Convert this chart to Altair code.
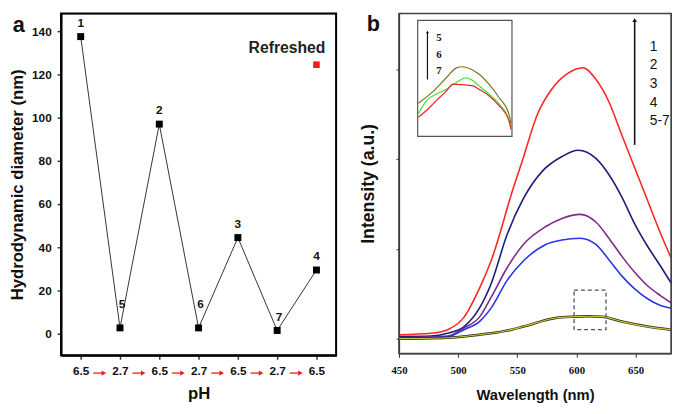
import json
import altair as alt
import pandas as pd

# ---------------- Panel a data ----------------
step_index = [0, 1, 2, 3, 4, 5, 6]
ph_values = ["6.5", "2.7", "6.5", "2.7", "6.5", "2.7", "6.5"]
diameter_nm = [137.5, 2.7, 97.0, 2.7, 44.5, 1.5, 29.5]
sample_labels = ["1", "5", "2", "6", "3", "7", "4"]
refreshed_index = [6]
refreshed_diameter = [124.5]
arrow_steps = [0.5, 1.5, 2.5, 3.5, 4.5, 5.5]
a_step_range = [-0.5, 6.5]
a_diam_range = [-10, 148.2]
arrow_row_diam = -18.2   # level of the red arrows, just below the axis

# ---------------- Panel b data ----------------
wl_1 = [450, 477, 491, 505, 518, 527.8, 546.9, 553.7, 567.3, 578, 592, 605.5, 616.4, 627.4, 638.3, 649.2, 660.1, 671, 680]
int_1 = [0.044, 0.06, 0.10, 0.24, 0.56, 0.865, 1.69, 1.96, 2.51, 2.76, 2.95, 3.02, 2.89, 2.64, 2.27, 1.905, 1.54, 1.175, 0.90]
wl_2 = [450, 477, 491, 505, 518, 527.8, 541.4, 555.1, 571.4, 587.8, 601.4, 616.4, 627.4, 638.3, 649.2, 660.1, 671, 680]
int_2 = [0.025, 0.03, 0.06, 0.135, 0.34, 0.61, 1.16, 1.56, 1.87, 2.03, 2.10, 2.01, 1.83, 1.58, 1.28, 1.03, 0.81, 0.62]
wl_3 = [450, 491, 505, 518, 527.8, 541.4, 555.1, 574.1, 587.8, 603, 616.4, 627.4, 638.3, 649.2, 660.1, 671, 680]
int_3 = [0.01, 0.03, 0.12, 0.24, 0.46, 0.79, 1.05, 1.25, 1.34, 1.385, 1.30, 1.12, 0.92, 0.74, 0.59, 0.48, 0.40]
wl_4 = [450, 491, 505, 518, 527.8, 541.4, 555.1, 574.1, 587.8, 603, 616.4, 627.4, 638.3, 649.2, 660.1, 671, 680]
int_4 = [0.0, 0.02, 0.10, 0.19, 0.34, 0.65, 0.865, 1.05, 1.10, 1.12, 1.05, 0.88, 0.70, 0.555, 0.445, 0.37, 0.34]
wl_57 = [450, 491, 518, 527.8, 545, 555.1, 582.5, 598.9, 610, 621.8, 638.3, 660.1, 680]
int_57 = [0.0, 0.01, 0.044, 0.06, 0.10, 0.135, 0.23, 0.245, 0.25, 0.245, 0.19, 0.135, 0.10]
series_names = ["1", "2", "3", "4"]
series_colors = ["#ff2626", "#1c1c7c", "#7e2a88", "#2a36e6"]
b_wl_range = [450, 680]
b_int_range = [-0.164, 3.624]

zoom_box_wl = [598, 625]
zoom_box_int = [0.10, 0.54]
legend_labels = ["1", "2", "3", "4", "5-7"]
legend_int = [3.255, 3.05, 2.84, 2.63, 2.42]
legend_wl = 662
arrow_wl = 649.2
arrow_int = [2.16, 3.55]

# inset: zoomed region 598-625 nm (relative intensity 0-1), placed in the upper-left corner
inset_wl_5 = [598.2, 602.5, 606.2, 609.1, 610.9, 612.8, 615.6, 618.4, 621.3, 624.1, 624.7]
inset_v_5 = [0.285, 0.39, 0.505, 0.59, 0.60, 0.585, 0.535, 0.45, 0.335, 0.195, 0.11]
inset_wl_6 = [598.2, 600.6, 603.4, 606.2, 609.1, 611.9, 613.3, 615.6, 618.4, 621.3, 624.1, 624.7]
inset_v_6 = [0.195, 0.31, 0.365, 0.405, 0.465, 0.505, 0.49, 0.435, 0.365, 0.28, 0.14, 0.07]
inset_wl_7 = [598.2, 600.6, 603.4, 606.2, 608.1, 610.9, 613.8, 615.6, 618.4, 621.3, 624.1, 624.7]
inset_v_7 = [0.165, 0.225, 0.31, 0.39, 0.45, 0.445, 0.435, 0.405, 0.35, 0.265, 0.14, 0.06]
inset_names = ["5", "6", "7"]
inset_colors = ["#7d7420", "#33e633", "#ee2222"]
inset_labels = ["5", "6", "7"]
inset_label_v = [0.845, 0.70, 0.56]
inset_label_wl = 603.3
inset_arrow_wl = 600.8
inset_arrow_v = [0.49, 0.90]
inset_place_wl = [465.8, 545.5]     # where the inset frame sits on the main wavelength axis
inset_place_int = [2.255, 3.547]    # and on the main intensity axis

FONT = "Liberation Sans"
NARROW = "Liberation Sans Narrow"

# ================= Panel a =================
df_a = pd.DataFrame({"step": step_index, "d": diameter_nm, "lab": sample_labels})
ph_expr = json.dumps(ph_values)
x_a = alt.X(
    "step:Q",
    scale=alt.Scale(domain=a_step_range, nice=False, zero=False),
    axis=alt.Axis(
        values=step_index,
        labelExpr=f"{ph_expr}[datum.value]",
        title="pH", titleFontSize=17, titleFontWeight="bold", titlePadding=10,
        labelFontSize=12, labelFontWeight="bold", labelPadding=6, tickSize=4, tickWidth=1.5,
        labelFlush=False, labelOverlap=False, grid=False, domainColor="#000", domainWidth=2,
    ),
)
y_a = alt.Y(
    "d:Q",
    scale=alt.Scale(domain=a_diam_range, nice=False, zero=False),
    axis=alt.Axis(
        values=list(range(0, 150, 20)),
        title="Hydrodynamic diameter (nm)", titleFontSize=17, titleFontWeight="bold",
        titlePadding=5,
        labelFontSize=12, labelFontWeight="bold", labelPadding=6, tickSize=4, tickWidth=1.5,
        labelOverlap=False, grid=False, domainColor="#000", domainWidth=2,
    ),
)
line_a = alt.Chart(df_a).mark_line(color="#333333", strokeWidth=1).encode(x=x_a, y=y_a)
pts_a = alt.Chart(df_a).mark_square(size=50, color="black", opacity=1).encode(x="step:Q", y="d:Q")
lab_even = alt.Chart(df_a).transform_filter("datum.step % 2 === 0").mark_text(
    font=FONT, fontSize=12, fontWeight="bold", dy=-14, color="#111").encode(x="step:Q", y="d:Q", text="lab:N")
lab_56 = alt.Chart(df_a).transform_filter("datum.step === 1 || datum.step === 3").mark_text(
    font=FONT, fontSize=12, fontWeight="bold", dy=-24, dx=2, color="#111").encode(x="step:Q", y="d:Q", text="lab:N")
lab_7 = alt.Chart(df_a).transform_filter("datum.step === 5").mark_text(
    font=FONT, fontSize=12, fontWeight="bold", dy=-14, dx=2, color="#111").encode(x="step:Q", y="d:Q", text="lab:N")
df_ref = pd.DataFrame({"step": refreshed_index, "d": refreshed_diameter, "t": ["Refreshed"]})
ref_pt = alt.Chart(df_ref).mark_square(size=45, color="#ff1a1a", opacity=1).encode(x="step:Q", y="d:Q")
ref_txt = alt.Chart(df_ref).mark_text(font=FONT, fontSize=16, fontWeight="bold", dx=-30, dy=-17, color="#222").encode(
    x="step:Q", y="d:Q", text="t:N")
df_arr = pd.DataFrame({"step": arrow_steps, "d": [arrow_row_diam] * len(arrow_steps)})
arr_shaft = alt.Chart(df_arr).transform_calculate(
    s0="datum.step - 0.18", s1="datum.step + 0.06"
).mark_rule(color="#e8201c", strokeWidth=1.3).encode(x="s0:Q", x2="s1:Q", y="d:Q")
arr_tip = alt.Chart(df_arr).transform_calculate(tip="datum.step + 0.09").mark_point(
    shape="triangle-right", size=28, filled=True, color="#e8201c", opacity=1).encode(x="tip:Q", y="d:Q")
letter_a = alt.Chart(pd.DataFrame({"t": ["a"]})).mark_text(
    font=FONT, fontSize=22, fontWeight="bold", color="#111").encode(x=alt.value(-43), y=alt.value(12), text="t:N")
frame_a = alt.Chart(pd.DataFrame({"t": [0]})).mark_rect(fillOpacity=0, stroke="#000000", strokeWidth=2).encode(
    x=alt.datum(a_step_range[0]), x2=alt.datum(a_step_range[1]),
    y=alt.datum(a_diam_range[0]), y2=alt.datum(a_diam_range[1]))

panel_a = alt.layer(line_a, pts_a, lab_even, lab_56, lab_7, ref_pt, ref_txt, arr_shaft, arr_tip, letter_a,
                    frame_a).properties(width=280, height=348)

# ================= Panel b =================
rows = []
for name, wl, it in zip(series_names, [wl_1, wl_2, wl_3, wl_4], [int_1, int_2, int_3, int_4]):
    rows += [{"wl": w, "I": v, "s": name} for w, v in zip(wl, it)]
df_b = pd.DataFrame(rows)
df_57 = pd.DataFrame({"wl": wl_57, "I": int_57})

x_b = alt.X(
    "wl:Q",
    scale=alt.Scale(domain=b_wl_range, nice=False, zero=False),
    axis=alt.Axis(
        values=list(range(450, 700, 25)),
        labelExpr="datum.value % 50 === 0 ? datum.label : ''",
        title="Wavelength (nm)", titleFontSize=15, titleFontWeight="bold", titlePadding=13,
        labelFont=NARROW, labelFontSize=11, labelFontWeight="bold", labelPadding=7, tickSize=4,
        labelFlush=False, labelOverlap=False, grid=False,
    ),
)
y_b = alt.Y(
    "I:Q",
    scale=alt.Scale(domain=b_int_range, nice=False, zero=False),
    axis=alt.Axis(
        values=[0, 1, 2, 3], labels=False, tickSize=3,
        title="Intensity (a.u.)", titleFontSize=18, titleFontWeight="bold", titlePadding=18, grid=False,
    ),
)
color_b = alt.Color("s:N", scale=alt.Scale(domain=series_names + inset_names, range=series_colors + inset_colors),
                    legend=None)
curves = alt.Chart(df_b).mark_line(interpolate="monotone", strokeWidth=1.6).encode(x=x_b, y=y_b, color=color_b)
c57_dark = alt.Chart(df_57).mark_line(interpolate="monotone", strokeWidth=2.6, color="#2a2a10").encode(x="wl:Q", y="I:Q")
c57_yel = alt.Chart(df_57).mark_line(interpolate="monotone", strokeWidth=1.2, color="#c9c83a").encode(x="wl:Q", y="I:Q")
df_box = pd.DataFrame({"wl": [zoom_box_wl[0]], "wl2": [zoom_box_wl[1]], "I": [zoom_box_int[0]], "I2": [zoom_box_int[1]]})
dbox = alt.Chart(df_box).mark_rect(fillOpacity=0, stroke="#4a5060", strokeWidth=1.3, strokeDash=[4, 3]).encode(
    x="wl:Q", x2="wl2:Q", y="I:Q", y2="I2:Q")
df_arrb = pd.DataFrame({"wl": [arrow_wl], "I": [arrow_int[0]], "I2": [arrow_int[1]]})
arr_line = alt.Chart(df_arrb).mark_rule(color="#111", strokeWidth=1.6).encode(x="wl:Q", y="I:Q", y2="I2:Q")
arr_head = alt.Chart(df_arrb).mark_point(shape="triangle-up", size=22, filled=True, color="#111", opacity=1).encode(
    x="wl:Q", y="I2:Q")
df_leg = pd.DataFrame({"wl": [legend_wl] * len(legend_labels), "I": legend_int, "t": legend_labels})
leg_txt = alt.Chart(df_leg).mark_text(font=FONT, fontSize=14, align="left", color="#111").encode(
    x="wl:Q", y="I:Q", text="t:N")
letter_b = alt.Chart(pd.DataFrame({"t": ["b"]})).mark_text(
    font=FONT, fontSize=22, fontWeight="bold", color="#111").encode(x=alt.value(-26), y=alt.value(11), text="t:N")

# inset: map its own (nm, 0-1) coordinates onto the main axes
w0, w1 = inset_place_wl
i0, i1 = inset_place_int
z0, z1 = zoom_box_wl
map_wl = f"{w0} + (datum.iw - {z0}) / ({z1} - {z0}) * ({w1} - {w0})"
map_v = f"{i0} + datum.iv * ({i1} - {i0})"
map_v2 = f"{i0} + datum.iv2 * ({i1} - {i0})"

irows = []
for name, wl, v in zip(inset_names, [inset_wl_5, inset_wl_6, inset_wl_7], [inset_v_5, inset_v_6, inset_v_7]):
    irows += [{"iw": w, "iv": val, "s": name} for w, val in zip(wl, v)]
df_in = pd.DataFrame(irows)
ibox = alt.Chart(pd.DataFrame({"iw": [z0], "iw2": [z1], "iv": [0], "iv2": [1]})).transform_calculate(
    wl=map_wl, wl2=f"{w0} + (datum.iw2 - {z0}) / ({z1} - {z0}) * ({w1} - {w0})", I=map_v, I2=map_v2
).mark_rect(fill="white", stroke="#555", strokeWidth=1.2).encode(x="wl:Q", x2="wl2:Q", y="I:Q", y2="I2:Q")
icurves = alt.Chart(df_in).transform_calculate(wl=map_wl, I=map_v).mark_line(
    interpolate="monotone", strokeWidth=1.2).encode(x="wl:Q", y="I:Q", color=color_b)
df_iarr = pd.DataFrame({"iw": [inset_arrow_wl], "iv": [inset_arrow_v[0]], "iv2": [inset_arrow_v[1]]})
iarr = alt.Chart(df_iarr).transform_calculate(wl=map_wl, I=map_v, I2=map_v2).mark_rule(
    color="#111", strokeWidth=1.2).encode(x="wl:Q", y="I:Q", y2="I2:Q")
ihead = alt.Chart(df_iarr).transform_calculate(wl=map_wl, I2=map_v2).mark_point(
    shape="triangle-up", size=10, filled=True, color="#111", opacity=1).encode(x="wl:Q", y="I2:Q")
df_ilab = pd.DataFrame({"iw": [inset_label_wl] * 3, "iv": inset_label_v, "t": inset_labels})
ilab = alt.Chart(df_ilab).transform_calculate(wl=map_wl, I=map_v).mark_text(
    font=NARROW, fontSize=11, fontWeight="bold", align="left", color="#111").encode(x="wl:Q", y="I:Q", text="t:N")

frame_b = alt.Chart(pd.DataFrame({"t": [1]})).mark_rect(fillOpacity=0, stroke="#444", strokeWidth=1.3).encode(
    x=alt.datum(b_wl_range[0]), x2=alt.datum(b_wl_range[1]),
    y=alt.datum(b_int_range[0]), y2=alt.datum(b_int_range[1]))

panel_b = alt.layer(curves, c57_dark, c57_yel, dbox, arr_line, arr_head, leg_txt, letter_b,
                    ibox, icurves, iarr, ihead, ilab, frame_b).properties(width=277, height=346)

chart = alt.hconcat(panel_a, panel_b, spacing=21).properties(padding=0).configure_view(
    stroke="#333", strokeWidth=1.3
).configure_axis(
    domainColor="#333", tickColor="#333", labelColor="#111", titleColor="#111",
    labelFont=FONT, titleFont=FONT, domainWidth=1.3,
)

chart.save("out.html", embed_options={"renderer": "svg", "actions": False})
